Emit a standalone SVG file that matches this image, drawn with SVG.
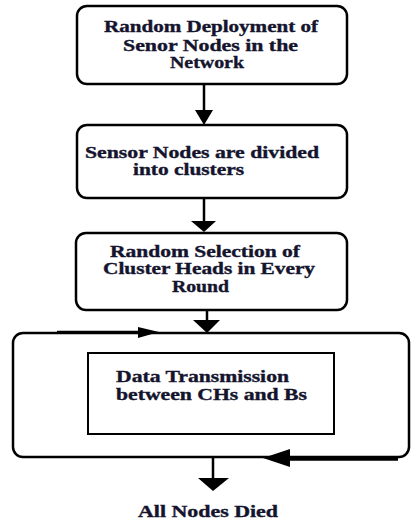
<svg xmlns="http://www.w3.org/2000/svg" width="411" height="523" viewBox="0 0 411 523">
<style>
.box{fill:#fff;stroke:#000;stroke-width:2.5}
.inner{fill:#fff;stroke:#000;stroke-width:2}
.t{font-family:"Liberation Serif","Times New Roman",serif;font-weight:bold;font-size:16px;fill:#14142e;stroke:#14142e;stroke-width:0.35}
.ln{stroke:#000;stroke-width:2.5;fill:none}
.ah{fill:#000}
</style>
<rect width="411" height="523" fill="#fff"/>
<g id="loop">
<rect class="box" x="13" y="333" width="396" height="124" rx="10"/>
</g>
<g id="n1">
<rect class="box" x="77" y="6" width="270" height="78" rx="10"/>
<text class="t" x="104" y="32" textLength="214" lengthAdjust="spacingAndGlyphs">Random Deployment of</text>
<text class="t" x="123" y="51" textLength="175" lengthAdjust="spacingAndGlyphs">Senor Nodes in the</text>
<text class="t" x="170" y="68" textLength="74" lengthAdjust="spacingAndGlyphs">Network</text>
</g>
<g id="n2">
<rect class="box" x="77" y="125" width="270" height="73" rx="10"/>
<text class="t" x="85" y="158" textLength="234" lengthAdjust="spacingAndGlyphs">Sensor Nodes are divided</text>
<text class="t" x="133" y="175" textLength="111" lengthAdjust="spacingAndGlyphs">into clusters</text>
</g>
<g id="n3">
<rect class="box" x="76" y="233" width="271" height="77" rx="10"/>
<text class="t" x="110" y="257" textLength="190" lengthAdjust="spacingAndGlyphs">Random Selection of</text>
<text class="t" x="103" y="274" textLength="212" lengthAdjust="spacingAndGlyphs">Cluster Heads in Every</text>
<text class="t" x="172" y="292" textLength="57" lengthAdjust="spacingAndGlyphs">Round</text>
</g>
<g id="n4">
<rect class="inner" x="88" y="353" width="246" height="81"/>
<text class="t" x="116" y="382" textLength="173" lengthAdjust="spacingAndGlyphs">Data Transmission</text>
<text class="t" x="116" y="400" textLength="191" lengthAdjust="spacingAndGlyphs">between CHs and Bs</text>
</g>
<g id="n5">
<text class="t" x="138" y="517" textLength="140" lengthAdjust="spacingAndGlyphs">All Nodes Died</text>
</g>
<g id="connectors">
<line class="ln" x1="204" y1="84" x2="204" y2="112"/>
<polygon class="ah" points="195,110 213,110 204,125"/>
<line class="ln" x1="204" y1="198" x2="204" y2="223"/>
<polygon class="ah" points="191,221 216,221 204,232"/>
<line class="ln" x1="207" y1="310" x2="207" y2="321"/>
<polygon class="ah" points="193,320 220,320 207,333"/>
<line class="ln" x1="57" y1="332" x2="140" y2="332"/>
<polygon class="ah" points="138,327 159,332 138,338"/>
<line class="ln" x1="398" y1="459" x2="288" y2="459" style="stroke-width:3.5"/>
<polygon class="ah" points="290,449 263,458 290,467"/>
<line class="ln" x1="213" y1="457" x2="213" y2="480"/>
<polygon class="ah" points="198,478 229,478 213,491"/>
</g>
</svg>
